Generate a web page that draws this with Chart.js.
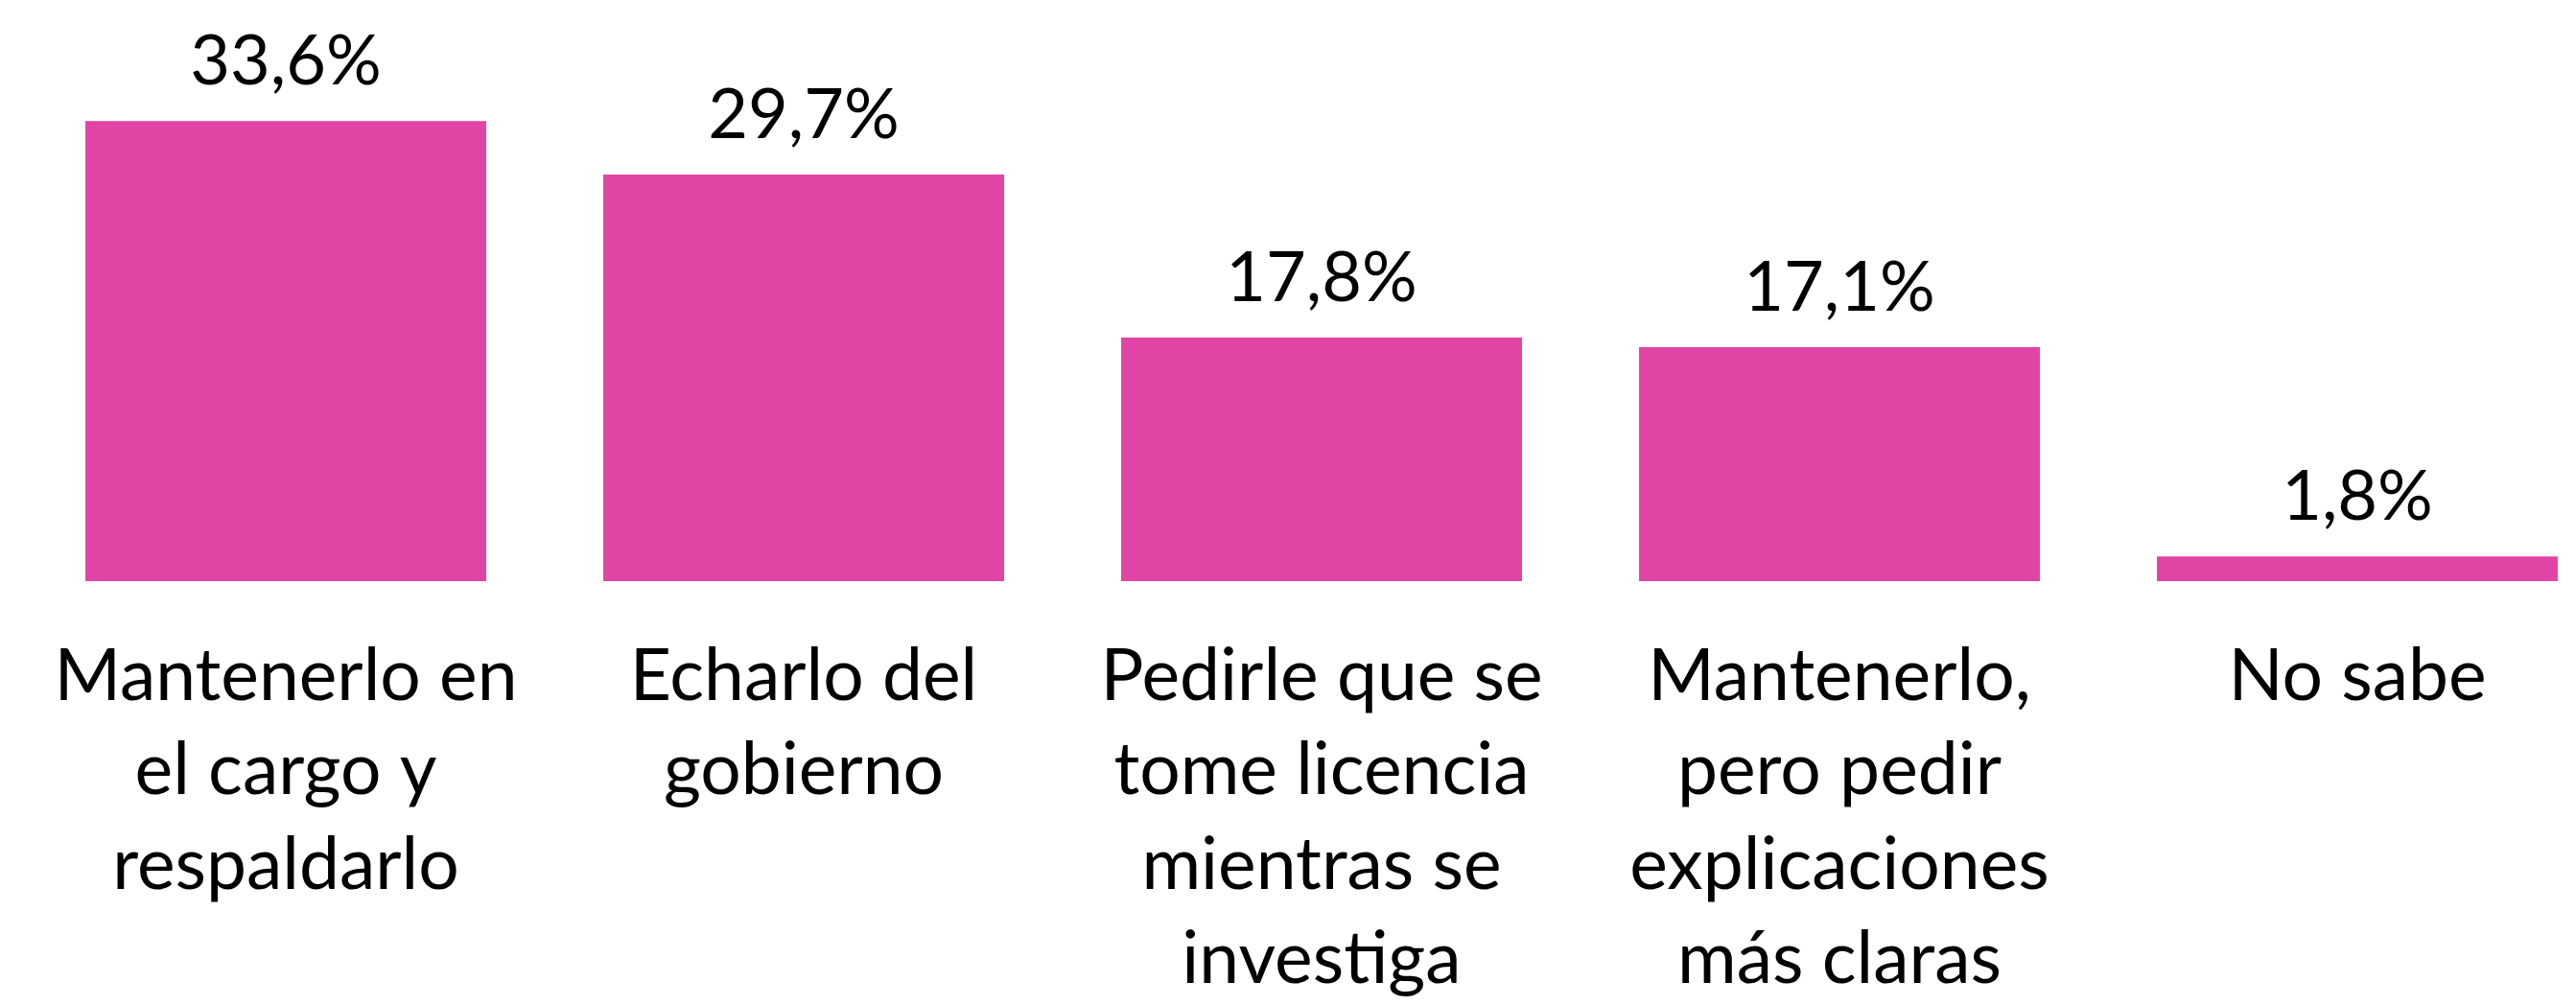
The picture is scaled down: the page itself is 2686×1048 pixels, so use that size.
<!DOCTYPE html>
<html>
<head>
<meta charset="utf-8">
<script src="https://cdn.jsdelivr.net/npm/chart.js@4/dist/chart.umd.min.js"></script>
<style>
  html, body { margin: 0; padding: 0; background: #ffffff; overflow: hidden; }
  #wrap { position: absolute; left: 0; top: 0; width: 2730px; height: 1048px; }
</style>
</head>
<body>
<div id="wrap"><canvas id="c" width="2730" height="1048"></canvas></div>
<script>
const categories = [
  ['Mantenerlo en', 'el cargo y', 'respaldarlo'],
  ['Echarlo del', 'gobierno'],
  ['Pedirle que se', 'tome licencia', 'mientras se', 'investiga'],
  ['Mantenerlo,', 'pero pedir', 'explicaciones', 'más claras'],
  ['No sabe']
];
const values = [33.6, 29.7, 17.8, 17.1, 1.8];
const valueLabels = ['33,6%', '29,7%', '17,8%', '17,1%', '1,8%'];

const FONT_FAMILY = 'Lato, "Open Sans", sans-serif';
const FONT_SIZE = 75;
const VALUE_FONT_SIZE = 72;
const BAR_COLOR = '#E045A5';

const valueLabelPlugin = {
  id: 'valueLabels',
  afterDatasetsDraw(chart) {
    const ctx = chart.ctx;
    const meta = chart.getDatasetMeta(0);
    ctx.save();
    ctx.font = VALUE_FONT_SIZE + 'px ' + FONT_FAMILY;
    ctx.fillStyle = '#000000';
    ctx.textAlign = 'center';
    ctx.textBaseline = 'alphabetic';
    meta.data.forEach((bar, i) => {
      ctx.fillText(valueLabels[i], bar.x, bar.y - 38);
    });
    ctx.restore();
  }
};

new Chart(document.getElementById('c'), {
  type: 'bar',
  data: {
    labels: categories,
    datasets: [{
      data: values,
      backgroundColor: BAR_COLOR,
      borderWidth: 0,
      categoryPercentage: 1.0,
      barPercentage: 0.774
    }]
  },
  options: {
    responsive: false,
    animation: false,
    devicePixelRatio: 1,
    layout: { padding: { top: 35, left: 28, right: 2, bottom: 0 } },
    plugins: {
      legend: { display: false },
      tooltip: { enabled: false },
      title: { display: false }
    },
    scales: {
      x: {
        grid: { display: false, drawTicks: false },
        border: { display: false },
        ticks: {
          color: '#000000',
          font: { family: FONT_FAMILY, size: FONT_SIZE, lineHeight: 98.2 / FONT_SIZE },
          padding: 51,
          maxRotation: 0,
          autoSkip: false
        },
        afterFit(scale) { scale.height = 442; }
      },
      y: {
        display: false,
        min: 0,
        max: 40
      }
    }
  },
  plugins: [valueLabelPlugin]
});
</script>
</body>
</html>
